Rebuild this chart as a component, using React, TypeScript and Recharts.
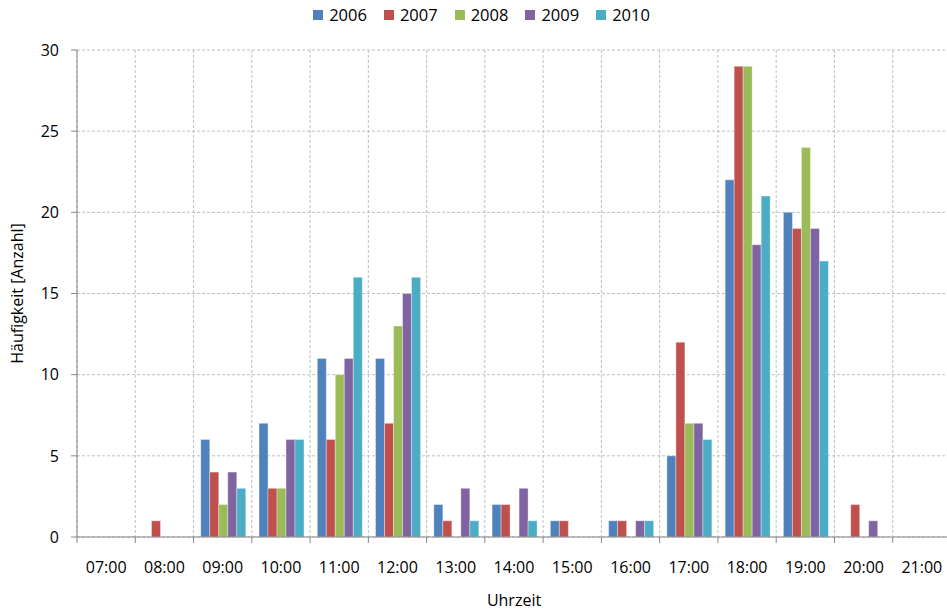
import { BarChart, Bar, XAxis, YAxis, CartesianGrid, Legend } from 'recharts'

const hours = ['07:00', '08:00', '09:00', '10:00', '11:00', '12:00', '13:00', '14:00', '15:00', '16:00', '17:00', '18:00', '19:00', '20:00', '21:00']
const y2006 = [null, null, 6, 7, 11, 11, 2, 2, 1, 1, 5, 22, 20, null, null]
const y2007 = [null, 1, 4, 3, 6, 7, 1, 2, 1, 1, 12, 29, 19, 2, null]
const y2008 = [null, null, 2, 3, 10, 13, null, null, null, null, 7, 29, 24, null, null]
const y2009 = [null, null, 4, 6, 11, 15, 3, 3, null, 1, 7, 18, 19, 1, null]
const y2010 = [null, null, 3, 6, 16, 16, 1, 1, null, 1, 6, 21, 17, null, null]
const yTicks = [0, 5, 10, 15, 20, 25, 30]

const series = [
  { key: '2006', values: y2006, color: '#4F81BD' },
  { key: '2007', values: y2007, color: '#C0504D' },
  { key: '2008', values: y2008, color: '#9BBB59' },
  { key: '2009', values: y2009, color: '#8064A2' },
  { key: '2010', values: y2010, color: '#4BACC6' },
]

const data = hours.map((h, i) => {
  const row: Record<string, string | number | null> = { time: h }
  series.forEach((s) => {
    row[s.key] = s.values[i]
  })
  return row
})

const FONT = '"Open Sans", sans-serif'
const CHART_W = 955
const CHART_H = 610
const MARGIN = { top: 28, right: 4, left: 0, bottom: 0 }
const Y_W = 77
const BAND = (CHART_W - MARGIN.left - MARGIN.right - Y_W) / hours.length

function HourTick(props: any) {
  const { x, y, payload } = props
  return (
    <g>
      <line x1={x - BAND / 2} x2={x - BAND / 2} y1={y} y2={y + 6} stroke="#868686" />
      <text x={x} y={y + 36} textAnchor="middle" fill="#000" fontSize={16} fontFamily={FONT}>
        {payload.value}
      </text>
    </g>
  )
}

function LegendBox() {
  return (
    <div style={{ display: 'flex', justifyContent: 'center', paddingLeft: 12, fontFamily: FONT, fontSize: 16.5, lineHeight: '22px' }}>
      {series.map((s, i) => (
        <div key={s.key} style={{ display: 'flex', alignItems: 'center', marginRight: i < series.length - 1 ? 17 : 0 }}>
          <span style={{ width: 10, height: 10, background: s.color, marginRight: 6, display: 'inline-block' }} />
          <span>{s.key}</span>
        </div>
      ))}
    </div>
  )
}

export default function App() {
  return (
    <div style={{ position: 'absolute', left: 0, top: 0, width: 947, height: 610, overflow: 'hidden', background: '#fff' }}>
      <BarChart width={CHART_W} height={CHART_H} data={data} margin={MARGIN} barCategoryGap="12.4%" barGap={0}>
        <CartesianGrid
          stroke="#BFBFBF"
          strokeDasharray="3 2"
          verticalCoordinatesGenerator={({ offset }: any) =>
            hours.map((_, i) => offset.left + i * (offset.width / hours.length)).concat(offset.left + offset.width)
          }
        />
        <XAxis
          dataKey="time"
          interval={0}
          tickLine={false}
          tickSize={0}
          tickMargin={0}
          height={73}
          stroke="#868686"
          tick={<HourTick />}
          label={{ value: 'Uhrzeit', position: 'insideBottom', offset: 4, fill: '#000', fontSize: 16, fontFamily: FONT }}
        />
        <YAxis
          width={Y_W}
          domain={[0, 30]}
          ticks={yTicks}
          interval={0}
          tickSize={6}
          tickMargin={12}
          stroke="#868686"
          tick={{ fill: '#000', fontSize: 16, fontFamily: FONT }}
          label={({ viewBox }: any) => (
            <text
              x={23}
              y={viewBox.y + viewBox.height / 2}
              transform={`rotate(-90 23 ${viewBox.y + viewBox.height / 2})`}
              textAnchor="middle"
              fill="#000"
              fontSize={16}
              fontFamily={FONT}
            >
              Häufigkeit [Anzahl]
            </text>
          )}
        />
        <Legend verticalAlign="top" align="center" content={<LegendBox />} wrapperStyle={{ top: 4 }} />
        {series.map((s) => (
          <Bar
            key={s.key}
            dataKey={s.key}
            fill={s.color}
            stroke="#ffffff"
            strokeOpacity={0.35}
            isAnimationActive={false}
          />
        ))}
      </BarChart>
    </div>
  )
}
